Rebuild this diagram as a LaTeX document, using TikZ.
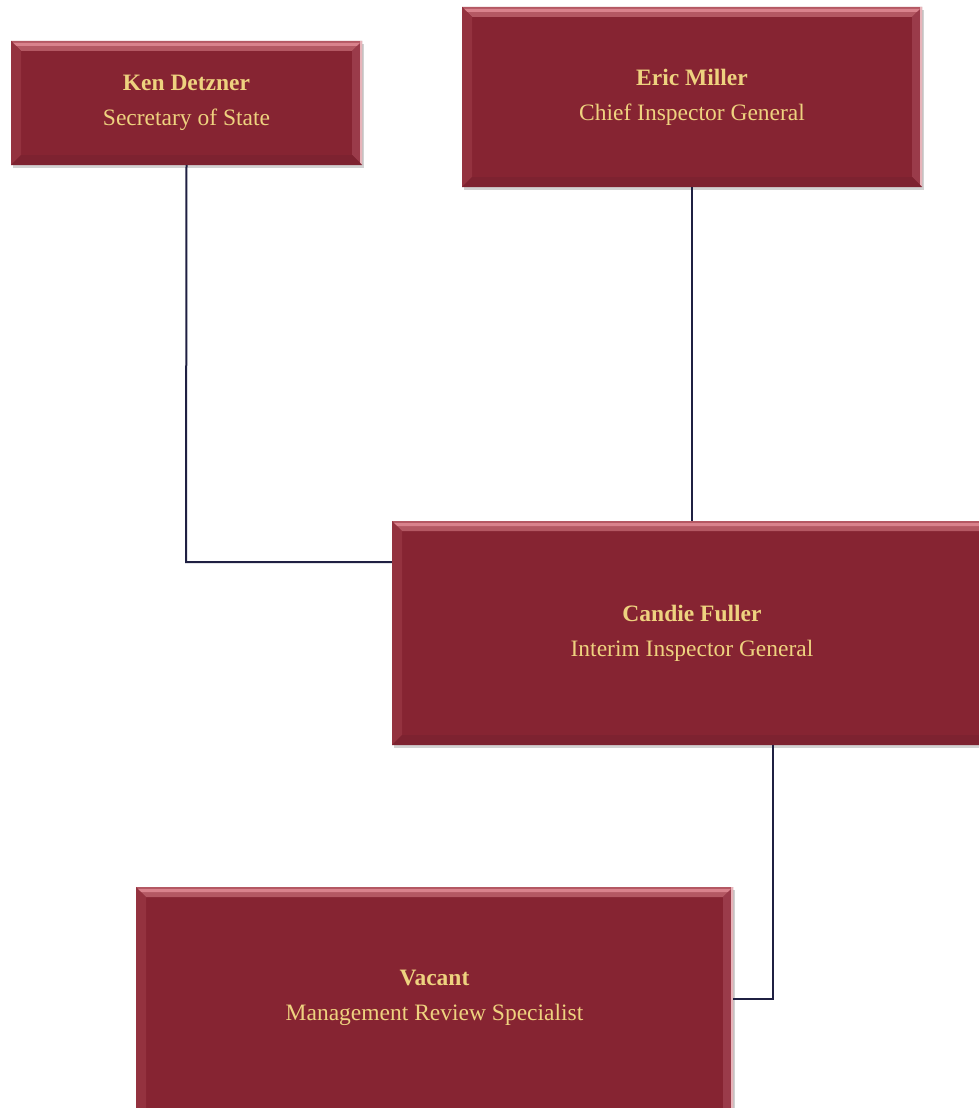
\documentclass[tikz,border=0pt]{standalone}
\usepackage{fontspec}
\setmainfont{Liberation Serif}
\usetikzlibrary{positioning,calc,shadows}
\definecolor{boxred}{HTML}{862432}
\definecolor{bevtop}{HTML}{D9828C}
\definecolor{bevleft}{HTML}{94323F}
\definecolor{bevright}{HTML}{9A3B4A}
\definecolor{bevbot}{HTML}{7D2230}
\definecolor{gold}{HTML}{EED27F}
\definecolor{navy}{HTML}{1F2042}
\tikzset{
  post/.style={rectangle, fill=boxred, text=gold, align=center, inner sep=0pt,
    font=\fontsize{23.5}{35}\selectfont,
    drop shadow={shadow xshift=2pt, shadow yshift=-3pt, opacity=0.35},
    path picture={
      \fill[bevtop!55!boxred] (path picture bounding box.north west) -- (path picture bounding box.north east)
        -- ([shift={(-10pt,-10pt)}]path picture bounding box.north east) -- ([shift={(10pt,-10pt)}]path picture bounding box.north west) -- cycle;
      \fill[bevtop] ([yshift=-2pt]path picture bounding box.north west) -- ([yshift=-2pt]path picture bounding box.north east)
        -- ([shift={(-5pt,-5pt)}]path picture bounding box.north east) -- ([shift={(5pt,-5pt)}]path picture bounding box.north west) -- cycle;
      \fill[bevleft] (path picture bounding box.north west) -- ([shift={(10pt,-10pt)}]path picture bounding box.north west)
        -- ([shift={(10pt,10pt)}]path picture bounding box.south west) -- (path picture bounding box.south west) -- cycle;
      \fill[bevright] (path picture bounding box.north east) -- ([shift={(-10pt,-10pt)}]path picture bounding box.north east)
        -- ([shift={(-10pt,10pt)}]path picture bounding box.south east) -- (path picture bounding box.south east) -- cycle;
      \fill[bevtop!60!white] ([xshift=-2pt]path picture bounding box.north east) rectangle (path picture bounding box.south east);
      \fill[bevbot] (path picture bounding box.south west) -- ([shift={(10pt,10pt)}]path picture bounding box.south west)
        -- ([shift={(-10pt,10pt)}]path picture bounding box.south east) -- (path picture bounding box.south east) -- cycle;
    }},
  link/.style={draw=navy, line width=2pt}
}

\begin{document}
\begin{tikzpicture}[x=1pt,y=-1pt]
  \useasboundingbox[fill=white] (0,0) rectangle (978,1108);
  % posts
  \node[post, minimum width=351pt, minimum height=124pt] (ken) at (186.5,103) {\textbf{Ken Detzner}\\Secretary of State};
  \node[post, minimum width=460pt, minimum height=180pt] (eric) at (692,97) {\textbf{Eric Miller}\\Chief Inspector General};
  \node[post, minimum width=600pt, minimum height=224pt] (candie) at (692,633) {\textbf{Candie Fuller}\\Interim Inspector General};
  \node[post, minimum width=597pt, minimum height=240pt] (vacant) at (434.5,1007) {\textbf{Vacant}\\Management Review Specialist\rule[-23pt]{0pt}{1pt}};
  % reporting lines
  \coordinate (kj) at (186,562);
  \coordinate (vj) at (773,999);
  \draw[link] (ken.south) -- (kj) -- (kj -| candie.west);
  \draw[link] (eric.south) -- (eric.south |- candie.north);
  \draw[link] (candie.south -| vj) -- (vj) -- (vj -| vacant.east);
\end{tikzpicture}
\end{document}
